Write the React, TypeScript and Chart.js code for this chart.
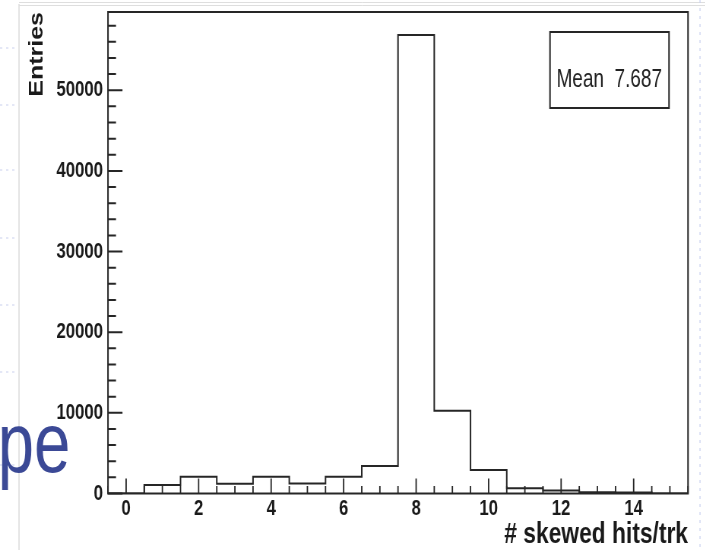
import { useEffect, useRef } from "react";
import { Chart, registerables } from "chart.js";

Chart.register(...registerables);

// ---------- data ----------
const binCenters = [0, 1, 2, 3, 4, 5, 6, 7, 8, 9, 10, 11, 12, 13, 14, 15];
const binCounts = [0, 1050, 2080, 1200, 2080, 1250, 2080, 3410, 56850, 10260, 2910, 650, 380, 150, 130, 0];
const binWidth = 1;
const xTickLabels = [0, 2, 4, 6, 8, 10, 12, 14];
const yTickLabels = [0, 10000, 20000, 30000, 40000, 50000];
const xMin = -0.5;
const xMax = 15.5;
const yMax = 59700;
const xMinorStep = 0.5;
const yMinorStep = 2000;
const xTitle = "# skewed hits/trk";
const yTitle = "Entries";
const statsName = "Mean";
const statsValue = "7.687";
const slideText = "pe";

// ---------- layout (canvas is drawn wide, then squeezed horizontally) ----------
const S = 0.76;
const W = Math.round(705 / S);
const H = 550;
const plotLeft = 108 / S;
const plotRight = 688 / S;
const plotTop = 12;
const plotBottom = 493.5;
const FONT = "'Liberation Sans', Arial, Helvetica, sans-serif";
const INK = "#1a1a1a";

const stepPoints = binCenters.flatMap((c, i) => [
  { x: c - binWidth / 2, y: binCounts[i] },
  { x: c + binWidth / 2, y: binCounts[i] },
]);

const rootPlugin = {
  id: "rootStyle",
  beforeDraw(chart: any) {
    const ctx = chart.ctx as CanvasRenderingContext2D;
    ctx.save();
    ctx.fillStyle = "#ffffff";
    ctx.fillRect(0, 0, chart.width, chart.height);
    // slide background remnants
    ctx.strokeStyle = "#d6d6d6";
    ctx.lineWidth = 1.3;
    ctx.beginPath();
    ctx.moveTo(19 / S, 4);
    ctx.lineTo(19 / S, H);
    ctx.stroke();
    ctx.strokeStyle = "#dedede";
    ctx.lineWidth = 1;
    ctx.beginPath();
    ctx.moveTo(19 / S, 2.5);
    ctx.lineTo(W, 2.5);
    ctx.moveTo(19 / S, 5.5);
    ctx.lineTo(W, 5.5);
    ctx.stroke();
    ctx.strokeStyle = "#c9d0ee";
    ctx.setLineDash([3, 5]);
    ctx.lineWidth = 1.2;
    ctx.beginPath();
    ctx.moveTo(700 / S, 0);
    ctx.lineTo(700 / S, H);
    for (const yy of [48, 105, 170, 238, 305, 372, 465]) {
      ctx.moveTo(0, yy);
      ctx.lineTo(16 / S, yy);
    }
    ctx.stroke();
    ctx.setLineDash([]);
    ctx.restore();
  },
  afterDraw(chart: any) {
    const ctx = chart.ctx as CanvasRenderingContext2D;
    const xs = chart.scales.x;
    const ys = chart.scales.y;
    const { left, right, top, bottom } = chart.chartArea;
    ctx.save();
    ctx.strokeStyle = "#262626";
    ctx.lineWidth = 2;
    ctx.strokeRect(left, top, right - left, bottom - top);
    // x ticks (inside, pointing up)
    ctx.lineWidth = 1.8;
    ctx.beginPath();
    for (let v = xMin; v <= xMax + 1e-9; v += xMinorStep) {
      const px = xs.getPixelForValue(v);
      const major = Math.abs(v % 2) < 1e-9;
      ctx.moveTo(px, bottom);
      ctx.lineTo(px, bottom - (major ? 15 : 7.5));
    }
    ctx.stroke();
    // y ticks (inside, pointing right)
    ctx.lineWidth = 2;
    ctx.beginPath();
    for (let v = 0; v <= yMax; v += yMinorStep) {
      const py = ys.getPixelForValue(v);
      const major = v % 10000 === 0;
      ctx.moveTo(left, py);
      ctx.lineTo(left + (major ? 19 : 10.5), py);
    }
    ctx.stroke();
    // stats box
    ctx.lineWidth = 2;
    ctx.strokeStyle = "#262626";
    ctx.strokeRect(550 / S, 32, (669 - 550) / S, 76);
    ctx.fillStyle = "#222";
    ctx.font = `25px ${FONT}`;
    ctx.textBaseline = "alphabetic";
    ctx.textAlign = "left";
    ctx.fillText(statsName, 556.5 / S, 86.5);
    ctx.textAlign = "right";
    ctx.fillText(statsValue, 662 / S, 86.5);
    // slide text remnant
    ctx.fillStyle = "#3b4996";
    ctx.font = `86px ${FONT}`;
    ctx.textAlign = "left";
    ctx.fillText(slideText, -3, 472);
    ctx.restore();
  },
};

export default function App() {
  const ref = useRef<HTMLCanvasElement>(null);
  useEffect(() => {
    const canvas = ref.current!;
    const chart = new Chart(canvas, {
      type: "line",
      data: {
        datasets: [
          {
            data: stepPoints,
            borderColor: "#262626",
            borderWidth: 2,
            pointRadius: 0,
            fill: false,
            tension: 0,
          },
        ],
      },
      options: {
        animation: false,
        responsive: false,
        devicePixelRatio: 1,
        layout: { padding: { top: plotTop, right: W - plotRight, left: 0, bottom: 0 } },
        plugins: {
          legend: { display: false },
          tooltip: { enabled: false },
        },
        scales: {
          x: {
            type: "linear",
            min: xMin,
            max: xMax,
            grid: { display: false, drawTicks: false },
            border: { display: false },
            afterBuildTicks: (s: any) => {
              s.ticks = xTickLabels.map((v) => ({ value: v }));
            },
            afterFit: (s: any) => {
              s.height = H - plotBottom;
              s.paddingLeft = 0;
              s.paddingRight = 0;
              s.paddingTop = 0;
              s.paddingBottom = 0;
            },
            ticks: {
              padding: 4,
              color: INK,
              autoSkip: false,
              maxRotation: 0,
              font: { family: FONT, size: 22, weight: "bold", lineHeight: 1 },
              callback: (v: any) => String(v),
            },
            title: {
              display: true,
              text: xTitle,
              align: "end",
              color: INK,
              padding: 0,
              font: { family: FONT, size: 30, weight: "bold", lineHeight: 1 },
            },
          },
          y: {
            type: "linear",
            min: 0,
            max: yMax,
            grid: { display: false, drawTicks: false },
            border: { display: false },
            afterBuildTicks: (s: any) => {
              s.ticks = yTickLabels.map((v) => ({ value: v }));
            },
            afterFit: (s: any) => {
              s.width = plotLeft;
              s.paddingLeft = 0;
              s.paddingRight = 0;
              s.paddingTop = 0;
              s.paddingBottom = 0;
            },
            ticks: {
              padding: 6.6,
              color: INK,
              font: { family: FONT, size: 22, weight: "bold", lineHeight: 1 },
              callback: (v: any) => String(v),
            },
            title: {
              display: true,
              text: yTitle,
              align: "end",
              color: INK,
              padding: { top: 37, bottom: 0 },
              font: { family: FONT, size: 25, weight: "bold", lineHeight: 1 },
            },
          },
        },
      } as any,
      plugins: [rootPlugin],
    });
    return () => chart.destroy();
  }, []);

  return (
    <div
      style={{
        position: "absolute",
        left: 0,
        top: 0,
        width: 705,
        height: H,
        overflow: "hidden",
        background: "#fff",
      }}
    >
      <canvas
        ref={ref}
        width={W}
        height={H}
        style={{ transform: `scaleX(${S})`, transformOrigin: "0 0", display: "block" }}
      />
    </div>
  );
}
